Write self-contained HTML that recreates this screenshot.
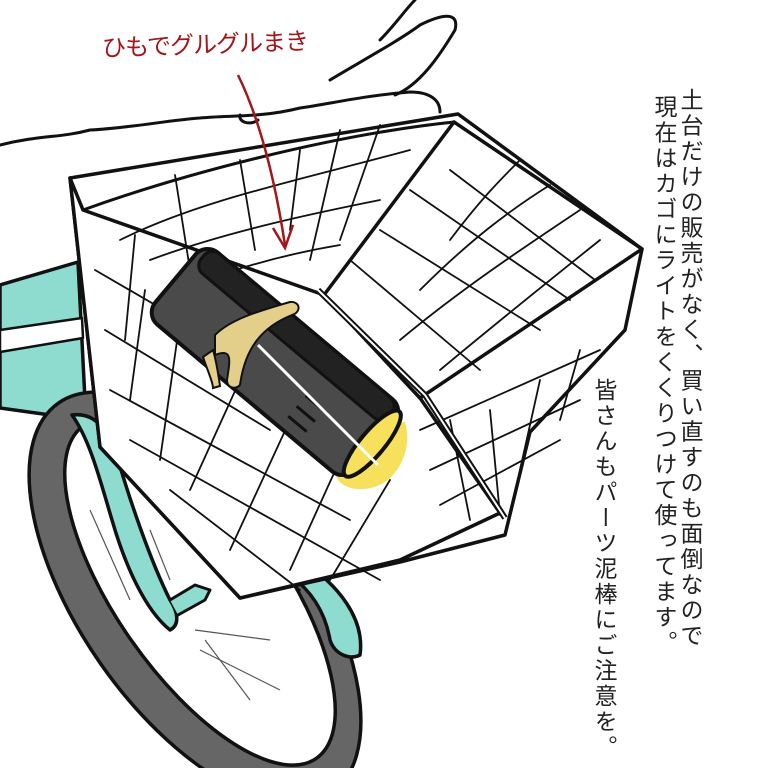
<!DOCTYPE html>
<html><head><meta charset="utf-8"><style>
html,body{margin:0;padding:0;background:#fff;overflow:hidden;}
#c{position:relative;width:768px;height:768px;overflow:hidden;background:#fff;}
svg{position:absolute;left:0;top:0;}
.v{position:absolute;writing-mode:vertical-rl;font-family:"Liberation Sans","Noto Sans CJK JP",sans-serif;font-size:23px;line-height:26px;color:#222;letter-spacing:2.5px;white-space:nowrap;}
</style></head><body><div id="c">
<svg width="768" height="768" viewBox="0 0 768 768">
<g stroke="#111" stroke-width="3.5" stroke-linejoin="round" stroke-linecap="round">
<path d="M0,285 L78,262 L86,420 L0,408 Z" fill="#8ddccf"/>
<path d="M0,330 L82,318 L83,338 L0,352 Z" fill="#fff" stroke-width="2.5"/>
<ellipse cx="195" cy="598" rx="238" ry="115" transform="rotate(55 195 598)" fill="#666"/>
<ellipse cx="200" cy="592" rx="203" ry="84" transform="rotate(55 200 592)" fill="#fff"/>
<path d="M300,560 C340,585 365,620 360,655 C350,660 335,655 330,640 C325,610 310,590 290,575 Z" fill="#8ddccf"/>
<path d="M72,415 C90,440 100,480 112,520 C125,565 145,610 170,630 C180,625 178,612 170,600 C150,560 130,500 118,460 C108,430 96,412 72,415 Z" fill="#8ddccf"/>
<path d="M170,600 L195,585 L210,590 L205,600 L178,615" fill="#8ddccf" stroke-width="3"/>
</g>
<g stroke="#555" stroke-width="1.2" fill="none">
<path d="M90,510 L130,600"/><path d="M150,530 L170,580"/><path d="M195,630 L270,640"/><path d="M200,650 L280,690"/><path d="M205,640 L250,700"/>
</g>
<g stroke="#111" stroke-width="3" fill="none" stroke-linecap="round">
<path d="M0,145 C40,135 60,138 90,130 C130,128 170,120 200,118 C230,115 260,118 300,108 C330,104 360,96 410,92 C430,92 440,100 440,112"/>
<path d="M330,80 C360,62 400,40 420,25 C440,15 460,10 455,30 C440,55 420,85 395,95"/>
<path d="M380,40 C395,25 405,10 415,0"/>
<path d="M240,115 C238,122 250,126 258,120"/>
</g>
<g stroke="#111" stroke-width="3.5" stroke-linejoin="round" fill="#fff">
<path d="M70,178 L458,114 L642,249 L625,330 L530,432 L505,535 L400,562 L240,598 L100,447 Z"/>
<path d="M83,210 L324,295 L420,398 L500,513 L400,560 L240,598 L100,447 L70,178 Z"/>
<path d="M324,295 L454,122 L642,249 L420,398 Z"/>
<path d="M83,210 C180,175 330,135 454,122" fill="none" stroke-width="3"/>
</g>
<g stroke="#111" stroke-width="1.8" fill="none" stroke-linecap="round">
<path d="M120,240 C200,200 300,180 410,150"/><path d="M150,260 C230,230 330,210 380,200"/><path d="M200,282 C260,260 310,250 340,245"/>
<path d="M175,175 L190,270"/><path d="M240,160 L255,250"/><path d="M300,150 L290,230"/><path d="M340,130 L310,260"/><path d="M380,125 L340,240"/>
<path d="M410,190 L570,300"/><path d="M380,230 L540,330"/><path d="M350,260 L480,370"/><path d="M450,170 L595,280"/>
<path d="M450,240 C480,200 500,180 520,160"/><path d="M420,290 C470,240 510,210 550,185"/><path d="M400,340 C460,290 520,250 580,210"/><path d="M440,370 C500,320 550,280 600,240"/>
<path d="M420,430 L600,350"/><path d="M430,470 L580,400"/><path d="M440,505 L560,440"/>
<path d="M450,420 L470,520"/><path d="M490,410 L500,515"/><path d="M540,380 L520,470"/><path d="M580,350 L560,420"/>
<path d="M95,270 L250,360"/><path d="M105,330 L270,430"/><path d="M110,390 L350,520"/><path d="M130,440 L380,580"/><path d="M170,490 L300,590"/>
<path d="M135,235 L125,340"/><path d="M145,290 L130,400"/><path d="M180,320 L160,460"/><path d="M240,380 L190,490"/><path d="M290,420 L230,550"/><path d="M340,460 L290,570"/><path d="M390,480 L330,580"/>
</g>
<path d="M335,470 C345,445 375,420 405,422 C412,445 402,470 385,482 C365,495 335,490 335,470 Z" fill="#f7e15c"/>
<g transform="rotate(40 275 362)">
<rect x="145" y="315" width="260" height="94" rx="16" fill="#4a4a4a" stroke="#111" stroke-width="4"/>
<rect x="152" y="315" width="245" height="26" rx="11" fill="#222" stroke="#111" stroke-width="3"/>
<ellipse cx="402" cy="362" rx="12" ry="42" fill="#f7e15c" stroke="#111" stroke-width="4"/>
<path d="M320,368 L348,368 M320,382 L344,382 M320,395 L344,395" stroke="#111" stroke-width="3"/>
</g>
<path d="M318,290 L425,395 L505,518" stroke="#111" stroke-width="6" fill="none"/>
<path d="M318,290 L425,395 L505,518" stroke="#fff" stroke-width="2" fill="none"/>
<path d="M258,345 L378,465" stroke="#fff" stroke-width="3"/>
<g stroke="#111" stroke-width="2" fill="#e4cf8a">
<path d="M215,335 C230,320 255,312 290,302 C300,301 302,312 292,315 C262,327 245,348 240,385 C235,390 227,388 227,380 C230,360 233,348 215,355 Z"/>
<path d="M203,357 C208,372 213,382 213,388 L220,386 C218,372 216,360 213,350 Z"/>
</g>
<text x="102" y="53" font-family="Liberation Sans,Noto Sans CJK JP,sans-serif" font-size="24" letter-spacing="-1" fill="#a3161a" transform="rotate(-2 200 45)">ひもでグルグルまき</text>
<path d="M238,75 C260,120 275,180 285,245" stroke="#a3161a" stroke-width="2.5" fill="none"/>
<path d="M273,228 L285,248 L293,225" stroke="#a3161a" stroke-width="2.5" fill="none"/>
</svg>
<div class="v" style="left:677px;top:88px;">土台だけの販売がなく、買い直すのも面倒なので</div>
<div class="v" style="left:651px;top:95px;">現在はカゴにライトをくくりつけて使ってます。</div>
<div class="v" style="left:591px;top:378px;">皆さんもパーツ泥棒にご注意を。</div>
</div></body></html>
